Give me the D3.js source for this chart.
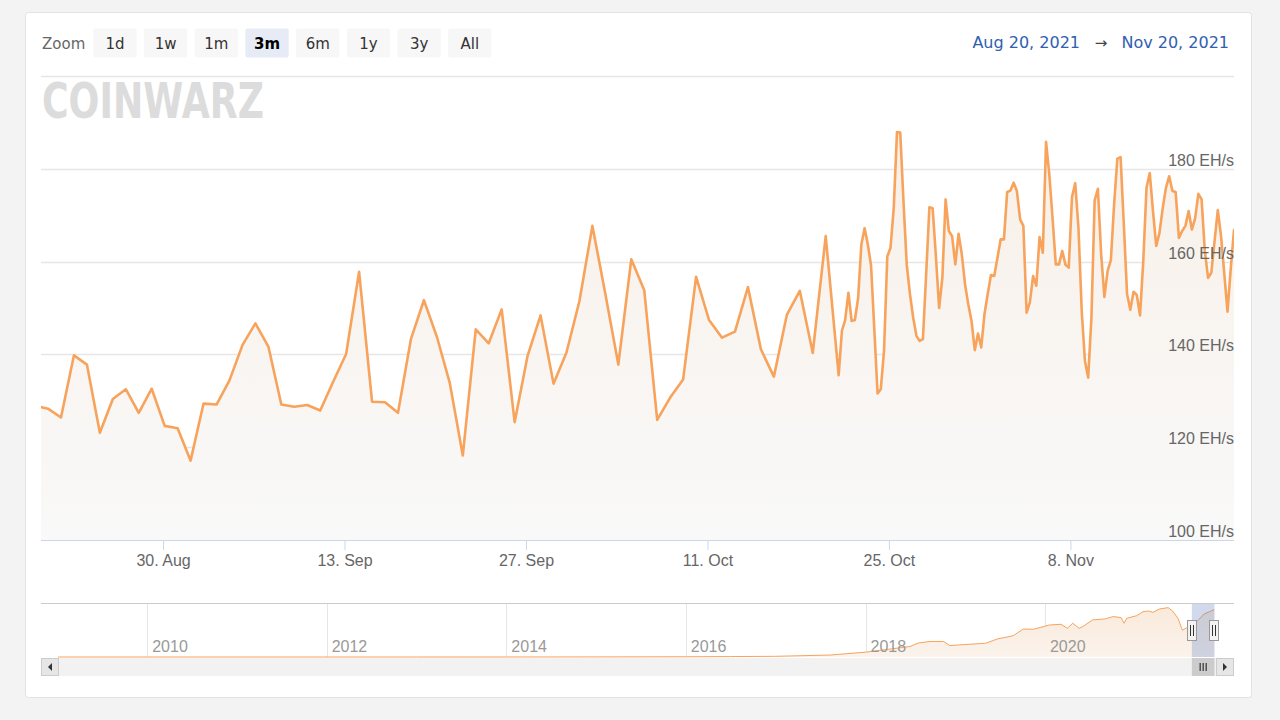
<!DOCTYPE html>
<html><head><meta charset="utf-8">
<script src="https://cdn.jsdelivr.net/npm/d3@7"></script>
<style>
html,body{margin:0;padding:0;background:#f3f3f3;}
svg{display:block;}
</style></head><body>
<svg id="chart" width="1280" height="720"></svg>
<script>
// ---------- DATA ----------
const dailyTimes = [
"2021-08-20 03:00","2021-08-21 03:00","2021-08-22 03:00","2021-08-23 03:00","2021-08-24 03:00","2021-08-25 03:00",
"2021-08-26 03:00","2021-08-27 03:00","2021-08-28 03:00","2021-08-29 03:00","2021-08-30 03:00","2021-08-31 03:00",
"2021-09-01 03:00","2021-09-02 03:00","2021-09-03 03:00","2021-09-04 03:00","2021-09-05 03:00","2021-09-06 03:00",
"2021-09-07 03:00","2021-09-08 03:00","2021-09-09 03:00","2021-09-10 03:00","2021-09-11 03:00","2021-09-12 03:00",
"2021-09-13 03:00","2021-09-14 03:00","2021-09-15 03:00","2021-09-16 03:00","2021-09-17 03:00","2021-09-18 03:00",
"2021-09-19 03:00","2021-09-20 03:00","2021-09-21 03:00","2021-09-22 03:00","2021-09-23 03:00","2021-09-24 03:00",
"2021-09-25 03:00","2021-09-26 03:00","2021-09-27 03:00","2021-09-28 03:00","2021-09-29 03:00","2021-09-30 03:00",
"2021-10-01 03:00","2021-10-02 03:00","2021-10-03 03:00","2021-10-04 03:00","2021-10-05 03:00","2021-10-06 03:00",
"2021-10-07 03:00","2021-10-08 03:00","2021-10-09 03:00","2021-10-10 03:00","2021-10-11 03:00","2021-10-12 03:00",
"2021-10-13 03:00","2021-10-14 03:00","2021-10-15 03:00","2021-10-16 03:00","2021-10-17 03:00","2021-10-18 03:00",
"2021-10-19 03:00","2021-10-20 03:00"];
const dailyValues = [
128.9,128.3,126.4,139.8,137.8,123.1,130.4,132.5,127.4,132.6,124.6,124.1,
117.1,129.4,129.2,134.4,142.0,146.7,141.7,129.2,128.7,129.1,127.9,134.1,
140.1,157.8,129.8,129.7,127.4,143.3,151.7,143.8,133.8,118.2,145.4,142.4,
149.7,125.4,139.7,148.4,133.7,140.4,151.5,167.7,153.0,137.8,160.5,153.8,
125.9,130.7,134.6,156.7,147.4,143.6,144.9,154.5,141.1,135.2,148.5,153.7,
140.3,165.5];

const intradayTimes = [
"2021-10-21 03:00","2021-10-21 09:00","2021-10-21 15:00","2021-10-21 21:00",
"2021-10-22 03:00","2021-10-22 09:00","2021-10-22 15:00","2021-10-22 21:00",
"2021-10-23 03:00","2021-10-23 09:00","2021-10-23 15:00","2021-10-23 21:00",
"2021-10-24 03:00","2021-10-24 09:00","2021-10-24 15:00","2021-10-24 21:00",
"2021-10-25 03:00","2021-10-25 09:00","2021-10-25 15:00","2021-10-25 21:00",
"2021-10-26 03:00","2021-10-26 09:00","2021-10-26 15:00","2021-10-26 21:00",
"2021-10-27 03:00","2021-10-27 09:00","2021-10-27 15:00","2021-10-27 21:00",
"2021-10-28 03:00","2021-10-28 09:00","2021-10-28 15:00","2021-10-28 21:00",
"2021-10-29 03:00","2021-10-29 09:00","2021-10-29 15:00","2021-10-29 21:00",
"2021-10-30 03:00","2021-10-30 09:00","2021-10-30 15:00","2021-10-30 21:00",
"2021-10-31 03:00","2021-10-31 09:00","2021-10-31 15:00","2021-10-31 21:00",
"2021-11-01 03:00","2021-11-01 09:00","2021-11-01 15:00","2021-11-01 21:00",
"2021-11-02 03:00","2021-11-02 09:00","2021-11-02 15:00","2021-11-02 21:00",
"2021-11-03 03:00","2021-11-03 09:00","2021-11-03 15:00","2021-11-03 21:00",
"2021-11-04 03:00","2021-11-04 09:00","2021-11-04 15:00","2021-11-04 21:00",
"2021-11-05 03:00","2021-11-05 09:00","2021-11-05 15:00","2021-11-05 21:00",
"2021-11-06 03:00","2021-11-06 09:00","2021-11-06 15:00","2021-11-06 21:00",
"2021-11-07 03:00","2021-11-07 09:00","2021-11-07 15:00","2021-11-07 21:00",
"2021-11-08 03:00","2021-11-08 09:00","2021-11-08 15:00","2021-11-08 21:00",
"2021-11-09 03:00","2021-11-09 09:00","2021-11-09 15:00","2021-11-09 21:00",
"2021-11-10 03:00","2021-11-10 09:00","2021-11-10 15:00","2021-11-10 21:00",
"2021-11-11 03:00","2021-11-11 09:00","2021-11-11 15:00","2021-11-11 21:00",
"2021-11-12 03:00","2021-11-12 09:00","2021-11-12 15:00","2021-11-12 21:00",
"2021-11-13 03:00","2021-11-13 09:00","2021-11-13 15:00","2021-11-13 21:00",
"2021-11-14 03:00","2021-11-14 09:00","2021-11-14 15:00","2021-11-14 21:00",
"2021-11-15 03:00","2021-11-15 09:00","2021-11-15 15:00","2021-11-15 21:00",
"2021-11-16 03:00","2021-11-16 09:00","2021-11-16 15:00","2021-11-16 21:00",
"2021-11-17 03:00","2021-11-17 09:00","2021-11-17 15:00","2021-11-17 21:00",
"2021-11-18 03:00","2021-11-18 09:00","2021-11-18 15:00","2021-11-18 21:00",
"2021-11-19 03:00","2021-11-19 09:00","2021-11-19 15:00","2021-11-19 21:00",
"2021-11-20 03:00","2021-11-20 09:00","2021-11-20 15:00"];
const intradayValues = [
135.5,145.1,147.4,153.3, 147.2,147.4,152.1,163.7, 167.2,163.7,159.1,145.4,
131.6,132.5,140.8,161.1, 163.0,171.6,187.9,187.8, 173.0,159.4,153.0,147.9,
144.0,142.9,143.3,157.3, 171.7,171.5,161.2,150.0, 156.5,173.4,166.6,165.5,
159.4,166.0,161.6,155.1, 150.8,147.2,140.9,144.5, 141.5,148.7,153.0,157.1,
156.9,160.8,164.8,164.8, 175.0,175.3,177.0,175.2, 169.1,167.7,149.0,151.2,
156.9,154.8,165.3,161.9, 185.8,178.8,169.4,159.4, 159.4,162.3,159.3,158.7,
173.9,176.9,167.3,149.4, 138.6,135.0,147.9,173.2, 175.7,161.6,152.4,158.0,
160.3,172.3,182.2,182.5, 168.0,153.0,149.6,153.5, 152.8,148.4,160.1,175.9,
179.1,170.9,163.4,166.2, 171.5,175.9,178.4,175.2, 175.0,165.1,166.6,167.7,
170.9,166.9,169.3,174.6, 173.4,162.3,156.5,157.6, 164.4,171.1,165.5,157.4,
149.2,158.5,166.8];

const xTickDates = ["2021-08-30","2021-09-13","2021-09-27","2021-10-11","2021-10-25","2021-11-08"];
const yTicks = [100,120,140,160,180,200];
const zoomButtons = ["1d","1w","1m","3m","6m","1y","3y","All"];
const selectedButton = "3m";
const rangeFrom = "Aug 20, 2021";
const rangeTo = "Nov 20, 2021";
const viewStart = "2021-08-20 14:00";
const viewEnd = "2021-11-20 15:00";

// navigator (full history, EH/s)
const navDates = ["2009-01-03","2010-01-01","2011-06-01","2013-01-01","2014-01-01","2015-01-01","2016-01-01",
"2016-07-01","2017-01-01","2017-08-10","2018-01-05","2018-07-01","2018-08-03","2018-09-20","2018-11-15",
"2018-12-10","2019-01-11","2019-05-05","2019-06-21","2019-08-25","2019-10-05","2019-11-14","2020-01-19",
"2020-03-06","2020-04-01","2020-04-23","2020-05-19","2020-06-03","2020-07-13","2020-09-02","2020-10-05",
"2020-11-06","2020-11-18","2020-11-29","2021-01-08","2021-02-03","2021-02-25","2021-03-15","2021-04-10",
"2021-05-16","2021-06-03","2021-06-25","2021-07-13","2021-08-08","2021-09-10","2021-10-09","2021-11-20"];
const navValues = [0,0.0000001,0.00001,0.00002,0.01,0.3,0.8,
1.5,2.5,7,17.6,37.6,49.8,55.6,55.6,
40.9,43,49.3,64.5,76.4,100.4,99.3,114.7,
117.3,103,121,103,109,133,136.6,145,
141,121,139,148,162.6,165,160,172,
177,165,139,96,109,127,154,170];
const navYears = ["2010","2012","2014","2016","2018","2020"];
const navDomain = ["2008-10-26","2022-02-08"];

// ---------- DRAW ----------
const svg = d3.select("#chart");
const parseT = d3.timeParse("%Y-%m-%d %H:%M");
const parseD = d3.timeParse("%Y-%m-%d");
const FONT_UI = "'DejaVu Sans', Verdana, sans-serif";
const FONT_AX = "'Liberation Sans', Arial, Helvetica, sans-serif";

const L = 41, R = 1234, T = 76, B = 540;

// card
svg.append("rect").attr("x",25.5).attr("y",12.5).attr("width",1226).attr("height",685)
  .attr("rx",3).attr("fill","#ffffff").attr("stroke","#e2e2e2");

const defs = svg.append("defs");
defs.append("clipPath").attr("id","plotClip").append("rect")
  .attr("x",L).attr("y",T-2).attr("width",R-L).attr("height",B-T+2);
const grad = defs.append("linearGradient").attr("id","areaGrad")
  .attr("gradientUnits","userSpaceOnUse").attr("x1",0).attr("y1",T).attr("x2",0).attr("y2",B);
grad.append("stop").attr("offset","0%").attr("stop-color","#f8efe6");
grad.append("stop").attr("offset","100%").attr("stop-color","#f9f9f9");
const navGrad = defs.append("linearGradient").attr("id","navGrad")
  .attr("gradientUnits","userSpaceOnUse").attr("x1",0).attr("y1",604).attr("x2",0).attr("y2",657);
navGrad.append("stop").attr("offset","0%").attr("stop-color","#f9e9da");
navGrad.append("stop").attr("offset","100%").attr("stop-color","#fbf3ec");

// scales
const x = d3.scaleTime().domain([parseT(viewStart), parseT(viewEnd)]).range([L, R]);
const y = d3.scaleLinear().domain([100, 200]).range([B, T]);

// data
const data = dailyTimes.map((t,i)=>({t:parseT(t), v:dailyValues[i]}))
  .concat(intradayTimes.map((t,i)=>({t:parseT(t), v:intradayValues[i]})));

// gridlines
svg.append("g").selectAll("line").data(yTicks.filter(d=>d>100)).join("line")
  .attr("x1",L).attr("x2",R).attr("y1",d=>Math.round(y(d))+0.5).attr("y2",d=>Math.round(y(d))+0.5)
  .attr("stroke","#e6e6e6").attr("stroke-width",1.5);

// area + line
const plot = svg.append("g").attr("clip-path","url(#plotClip)");
plot.append("path").datum(data)
  .attr("d", d3.area().x(d=>x(d.t)).y0(B).y1(d=>y(d.v)))
  .attr("fill","url(#areaGrad)");
plot.append("path").datum(data)
  .attr("d", d3.line().x(d=>x(d.t)).y(d=>y(d.v)))
  .attr("fill","none").attr("stroke","#f7a35c").attr("stroke-width",2.6)
  .attr("stroke-linejoin","round").attr("stroke-linecap","round");

// watermark logo
svg.append("text").attr("x",42).attr("y",118).text("COINWARZ")
  .attr("font-family","'DejaVu Sans', sans-serif").attr("font-weight","bold")
  .attr("font-size",49).attr("textLength",222).attr("lengthAdjust","spacingAndGlyphs")
  .attr("fill","#dcdcdc");

// y labels (inside, right)
svg.append("g").selectAll("text").data(yTicks.filter(d=>d<200)).join("text")
  .attr("x",R).attr("y",d=>y(d)-3).attr("text-anchor","end")
  .attr("font-family",FONT_AX).attr("font-size",16).attr("fill","#666666")
  .text(d=>d+" EH/s");

// x axis
const xAxis = d3.axisBottom(x).tickValues(xTickDates.map(parseD))
  .tickFormat(d3.timeFormat("%-d. %b")).tickSize(10).tickPadding(5);
const gx = svg.append("g").attr("transform",`translate(0,${B})`).call(xAxis);
gx.select(".domain").attr("stroke","#ccd6eb").attr("d",`M${L},0.5H${R}`);
gx.selectAll(".tick line").attr("stroke","#ccd6eb");
gx.selectAll(".tick text").attr("font-family",FONT_AX).attr("font-size",16).attr("fill","#666666");

// range selector
svg.append("text").attr("x",42).attr("y",49).text("Zoom")
  .attr("font-family",FONT_UI).attr("font-size",15).attr("fill","#666666");
const btnW = 43.3, btnStep = 50.7, btnX0 = 93.3;
const bg = svg.append("g").selectAll("g").data(zoomButtons).join("g")
  .attr("transform",(d,i)=>`translate(${btnX0+i*btnStep},28.5)`);
bg.append("rect").attr("width",btnW).attr("height",29).attr("rx",2)
  .attr("fill",d=>d===selectedButton?"#e6ebf5":"#f7f7f7");
bg.append("text").attr("x",btnW/2).attr("y",20.5).attr("text-anchor","middle")
  .attr("font-family",FONT_UI).attr("font-size",15)
  .attr("font-weight",d=>d===selectedButton?"bold":"normal")
  .attr("fill",d=>d===selectedButton?"#000000":"#333333").text(d=>d);

// date range
svg.append("text").attr("x",1080).attr("y",48).attr("text-anchor","end").text(rangeFrom)
  .attr("font-family",FONT_UI).attr("font-size",16).attr("fill","#3060b0");
svg.append("text").attr("x",1101).attr("y",48).attr("text-anchor","middle").text("\u2192")
  .attr("font-family",FONT_UI).attr("font-size",15).attr("fill","#444444");
svg.append("text").attr("x",1229).attr("y",48).attr("text-anchor","end").text(rangeTo)
  .attr("font-family",FONT_UI).attr("font-size",16).attr("fill","#3060b0");

// ---------- NAVIGATOR ----------
const NT = 604, NB = 657;
const nx = d3.scaleTime().domain(navDomain.map(parseD)).range([L, R]);
const ny = d3.scaleLinear().domain([0, 190]).range([NB, NT]);
const navData = navDates.map((d,i)=>({t:parseD(d), v:navValues[i]}));

svg.append("line").attr("x1",L).attr("x2",R).attr("y1",603.5).attr("y2",603.5)
  .attr("stroke","#cccccc").attr("stroke-width",1);
svg.append("g").selectAll("line").data(navYears).join("line")
  .attr("x1",d=>Math.round(nx(parseD(d+"-01-01")))+0.5).attr("x2",d=>Math.round(nx(parseD(d+"-01-01")))+0.5)
  .attr("y1",604).attr("y2",NB).attr("stroke","#e6e6e6");
svg.append("path").datum(navData)
  .attr("d", d3.area().x(d=>nx(d.t)).y0(NB).y1(d=>ny(d.v)))
  .attr("fill","url(#navGrad)");
svg.append("path").datum(navData)
  .attr("d", d3.line().x(d=>nx(d.t)).y(d=>ny(d.v)))
  .attr("fill","none").attr("stroke","#f7a35c").attr("stroke-width",1);
svg.append("g").selectAll("text").data(navYears).join("text")
  .attr("x",d=>nx(parseD(d+"-01-01"))+5).attr("y",652)
  .attr("font-family",FONT_AX).attr("font-size",16).attr("fill","#999999").text(d=>d);

// selection mask
const mx0 = nx(parseT(viewStart)), mx1 = nx(parseT(viewEnd));
svg.append("rect").attr("x",mx0).attr("y",604).attr("width",mx1-mx0).attr("height",NB-604)
  .attr("fill","rgba(102,133,194,0.3)");
[mx0, mx1].forEach(hx=>{
  const g = svg.append("g").attr("transform",`translate(${Math.round(hx)},620)`);
  g.append("rect").attr("x",-4.5).attr("y",0.5).attr("width",9).attr("height",20)
    .attr("fill","#f2f2f2").attr("stroke","#999999");
  g.append("line").attr("x1",-1.5).attr("x2",-1.5).attr("y1",5).attr("y2",16).attr("stroke","#333");
  g.append("line").attr("x1",1.5).attr("x2",1.5).attr("y1",5).attr("y2",16).attr("stroke","#333");
});

// scrollbar
const SY = 658, SH = 18;
svg.append("rect").attr("x",L).attr("y",SY).attr("width",R-L).attr("height",SH).attr("fill","#f2f2f2");
svg.append("rect").attr("x",mx0).attr("y",SY).attr("width",mx1-mx0).attr("height",SH)
  .attr("fill","#cccccc");
const rc = (mx0+mx1)/2;
[-3,0,3].forEach(o=>svg.append("line").attr("x1",rc+o).attr("x2",rc+o).attr("y1",SY+5).attr("y2",SY+13)
  .attr("stroke","#333").attr("stroke-width",1.2));
svg.append("rect").attr("x",L+0.5).attr("y",SY+0.5).attr("width",SH-1).attr("height",SH-1)
  .attr("fill","#e6e6e6").attr("stroke","#cccccc");
svg.append("path").attr("d",`M${L+11},${SY+5}L${L+7},${SY+9}L${L+11},${SY+13}Z`).attr("fill","#333");
svg.append("rect").attr("x",R-SH+0.5).attr("y",SY+0.5).attr("width",SH-1).attr("height",SH-1)
  .attr("fill","#e6e6e6").attr("stroke","#cccccc");
svg.append("path").attr("d",`M${R-11},${SY+5}L${R-7},${SY+9}L${R-11},${SY+13}Z`).attr("fill","#333");
</script>
</body></html>
